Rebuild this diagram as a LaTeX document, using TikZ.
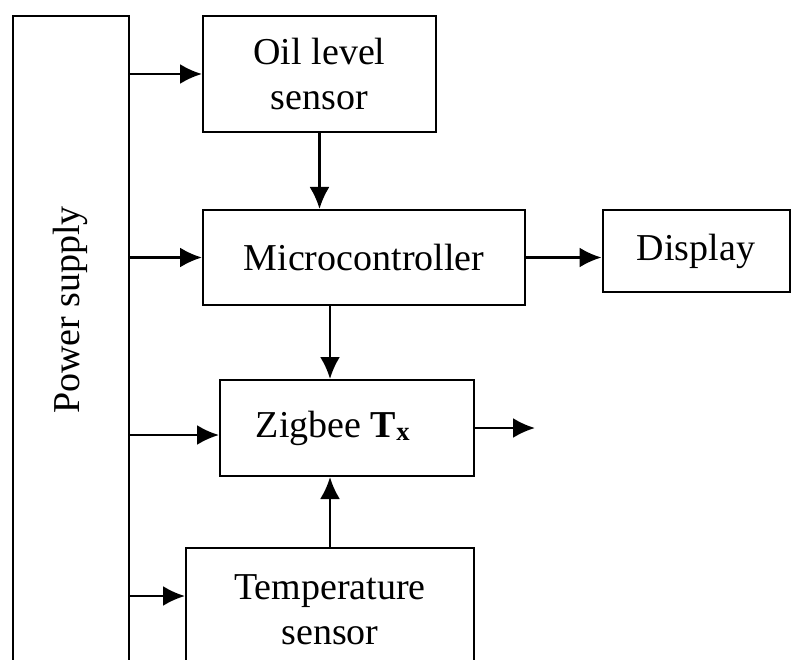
\documentclass[tikz,border=0pt]{standalone}
\usepackage{fontspec}
\setmainfont{Liberation Serif}
\usepackage{tikz}
\usetikzlibrary{positioning,arrows.meta}

\begin{document}
\begin{tikzpicture}[x=1pt, y=-1pt, >={Latex[length=22pt,width=20pt]},
    every node/.style={font=\fontsize{38}{45}\selectfont},
    block/.style={draw, line width=2pt, align=center, inner sep=0pt},
    link/.style={->, line width=2.6pt}]
      \useasboundingbox (0,0) rectangle (791,660);
      \clip (0,0) rectangle (791,660);
      % blocks
      \node[block, minimum width=116, minimum height=700, anchor=north west] (power) at (12,15) {};
      \node[rotate=90] (powerlabel) at (70,310) {Power supply};
      \node[block, minimum width=233, minimum height=116] (oil) at (319.5,74) {Oil level\\sensor};
      \node[block, minimum width=322, minimum height=95] (micro) at (364,257.5) {Microcontroller};
      \node[block, minimum width=187, minimum height=82] (display) at (696,251) {Display};
      \node[block, minimum width=254, minimum height=96] (zigbee) at (347,428) {Zigbee \textbf{T\textsubscript{x}}\hspace*{28pt}};
      \node[block, minimum width=288, minimum height=124, anchor=north] (temp) at (330,547) {Temperature\\sensor};
      % free ends
      \coordinate (zin) at ([yshift=-7pt]zigbee.west);
      \coordinate (tin) at ([yshift=-49pt]temp.north west);
      \coordinate (zout) at ([xshift=60pt]zigbee.east);
      % connectors
      \draw[link] (power.east |- oil.west) -- (oil.west);
      \draw[link] (power.east |- micro.west) -- (micro.west);
      \draw[link] (power.east |- zin) -- (zin);
      \draw[link] (power.east |- tin) -- (tin);
      \draw[link] (oil.south) -- (oil.south |- micro.north);
      \draw[link] (micro.east) -- (display.west |- micro.east);
      \draw[link] (micro.south -| temp.north) -- (zigbee.north -| temp.north);
      \draw[link] (temp.north) -- (temp.north |- zigbee.south);
      \draw[link] (zigbee.east) -- (zout);
    \end{tikzpicture}
\end{document}
